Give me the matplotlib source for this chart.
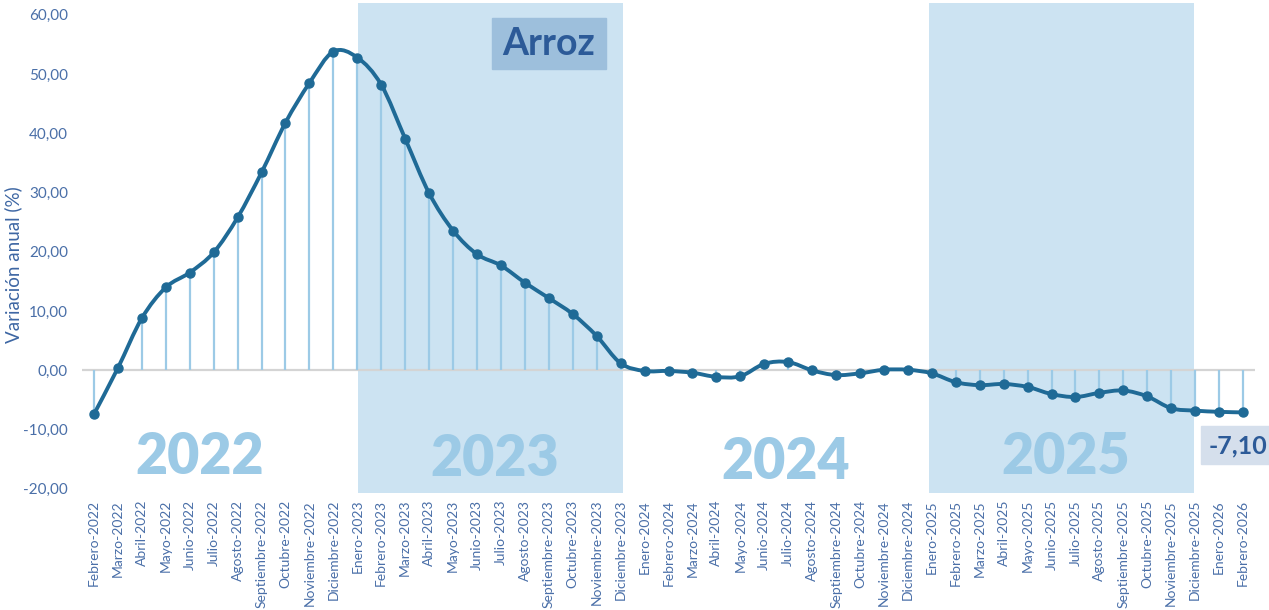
import numpy as np
import matplotlib
matplotlib.use('Agg')
import matplotlib.pyplot as plt
from matplotlib.path import Path
from matplotlib.patches import PathPatch, Rectangle


meses = ['Enero', 'Febrero', 'Marzo', 'Abril', 'Mayo', 'Junio', 'Julio',
         'Agosto', 'Septiembre', 'Octubre', 'Noviembre', 'Diciembre']

# Feb-2022 .. Feb-2026
etiquetas = []
for anio in range(2022, 2027):
    for m in meses:
        etiquetas.append(m + '-' + str(anio))
etiquetas = etiquetas[1:50]

variacion = [-7.4, 0.4, 8.8, 14.0, 16.5, 19.9, 25.8, 33.4, 41.8, 48.5, 53.8,
             52.8, 48.2, 39.1, 29.9, 23.6, 19.6, 17.7, 14.8, 12.2, 9.5, 5.8, 1.2,
             -0.1, -0.1, -0.4, -1.1, -1.0, 1.1, 1.4, 0.0, -0.8, -0.5, 0.1, 0.1,
             -0.5, -2.0, -2.5, -2.3, -2.8, -4.0, -4.5, -3.8, -3.4, -4.4, -6.4, -6.8,
             -7.0, -7.10]

anios = ['2022', '2023', '2024', '2025']
anio_x = [4.43, 16.75, 28.9, 40.6]
anio_y = [-14.7, -15.0, -15.4, -14.7]

AZUL = '#1f6a96'
CELESTE = '#9ccae6'
BANDA = '#cce3f2'
TEXTO = '#4a6fa8'


def curva_suave(x, y):
    # catmull-rom -> bezier, como la linea suavizada de excel
    pts = np.column_stack([x, y])
    n = len(pts)
    verts = [pts[0]]
    codes = [Path.MOVETO]
    for i in range(n - 1):
        p0 = pts[max(i - 1, 0)]
        p1 = pts[i]
        p2 = pts[i + 1]
        p3 = pts[min(i + 2, n - 1)]
        c1 = p1 + (p2 - p0) / 6.0
        c2 = p2 - (p3 - p1) / 6.0
        verts += [c1, c2, p2]
        codes += [Path.CURVE4] * 3
    return Path(verts, codes)


plt.rcParams['font.family'] = ['Lato', 'DejaVu Sans']

fig = plt.figure(figsize=(12.69, 6.10), dpi=100)
ax = fig.add_axes([82 / 1269, 117 / 610, 1173 / 1269, 490 / 610])

x = np.arange(len(variacion))
y = np.array(variacion)

ax.axvspan(11.05, 22.12, color=BANDA, lw=0, zorder=0)
ax.axvspan(34.87, 45.96, color=BANDA, lw=0, zorder=0)

ax.axhline(0, color='#d4d4d4', lw=1.6, zorder=1)
ax.vlines(x, 0, y, color=CELESTE, lw=1.6, zorder=2)

ax.add_patch(PathPatch(curva_suave(x, y), fill=False, edgecolor=AZUL,
                       lw=2.8, capstyle='round', joinstyle='round', zorder=3))
ax.plot(x, y, 'o', color=AZUL, ms=6.5, zorder=4)

for t, xx, yy in zip(anios, anio_x, anio_y):
    ax.text(xx, yy, t, color=CELESTE, fontsize=40, fontweight='heavy',
            ha='center', va='center', zorder=1)

ax.set_xlim(-0.5, 48.5)
ax.set_ylim(-20.7, 62)
ax.set_yticks(np.arange(-20, 61, 10))
ax.set_yticklabels(['{:.2f}'.format(v).replace('.', ',') for v in np.arange(-20, 61, 10)])
ax.set_xticks(x)
ax.set_xticklabels(etiquetas, rotation=90)
ax.tick_params(axis='y', length=0, pad=10, labelsize=11, labelcolor=TEXTO)
ax.tick_params(axis='x', length=0, pad=5, labelsize=10, labelcolor=TEXTO)
for s in ax.spines.values():
    s.set_visible(False)
ax.set_ylabel('Variación anual (%)', fontsize=13.5, color='#3d66a3')
ax.yaxis.set_label_coords(-60 / 1173, (610 - 265 - 117) / 490)

# titulo en caja
fig.patches.append(Rectangle((492 / 1269, 1 - 69 / 610), 114 / 1269, 51 / 610,
                             transform=fig.transFigure, color='#9dbfdc', zorder=5))
fig.text(549 / 1269, 1 - 44 / 610, 'Arroz', fontsize=27, fontweight='bold',
         color='#2c5a98', ha='center', va='center', zorder=6)

# ultimo valor
fig.patches.append(Rectangle((1201 / 1269, 1 - 464 / 610), 70 / 1269, 38 / 610,
                             transform=fig.transFigure, color='#d5dfec', zorder=5))
fig.text(1209 / 1269, 1 - 446 / 610, '{:.2f}'.format(variacion[-1]).replace('.', ','),
         fontsize=18, fontweight='bold', color='#2c5a98', ha='left', va='center', zorder=6)

fig.savefig('out.png', dpi=100)
